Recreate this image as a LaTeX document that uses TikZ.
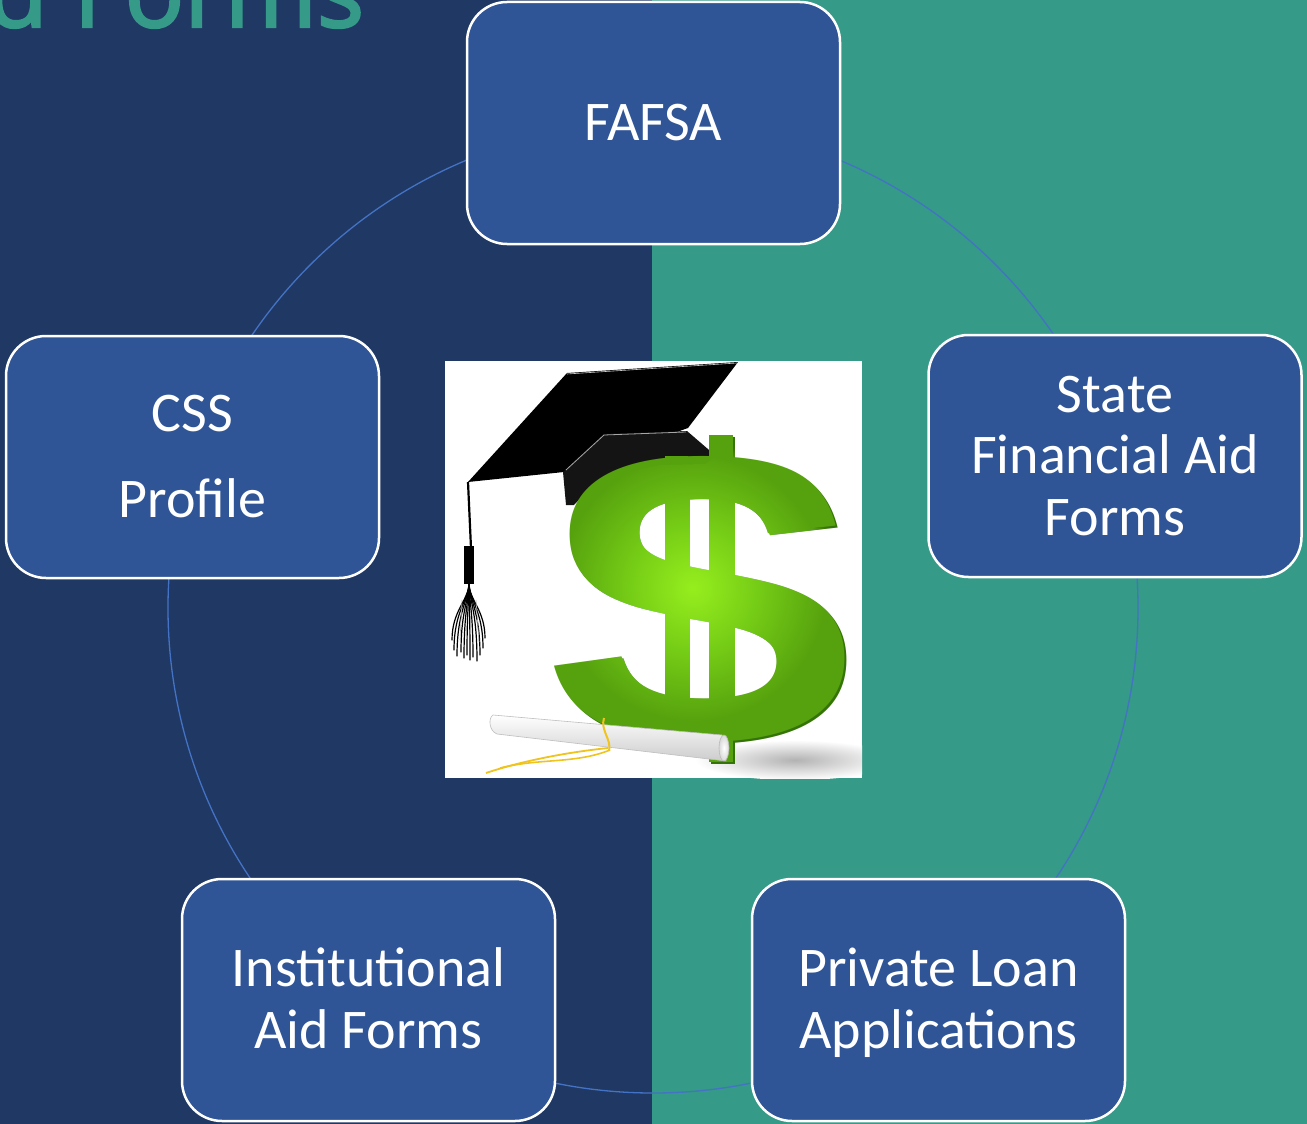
\documentclass[tikz,border=0pt]{standalone}
\usepackage{fontspec}
\setmainfont{Carlito}
\newfontfamily\titlefont{Open Sans}[FakeBold=2.5]
\newfontfamily\dollarfont{Liberation Sans}
\definecolor{bgnavy}{RGB}{31,56,100}
\definecolor{bgteal}{RGB}{53,154,135}
\definecolor{boxblue}{RGB}{47,85,151}
\definecolor{ringblue}{RGB}{68,114,196}
\definecolor{sgreen}{RGB}{86,162,14}
\definecolor{sdark}{RGB}{52,115,6}
\definecolor{smid}{RGB}{118,205,22}
\definecolor{sbright}{RGB}{150,238,30}
\definecolor{ribbon}{RGB}{240,196,30}
\pgfdeclareradialshading{sglow}{\pgfpoint{0bp}{0bp}}{color(0bp)=(sbright); color(9bp)=(smid); color(19bp)=(sgreen); color(25bp)=(black); color(50bp)=(black)}
\begin{document}
\begin{tikzpicture}[x=1pt,y=-1pt,
  formbox/.style={draw=white, line width=2.5pt, fill=boxblue, rounded corners=40pt,
    minimum width=373pt, minimum height=242pt, inner sep=0pt, text=white, align=center,
    font=\fontsize{56}{61.5}\selectfont, text depth=0pt},
  strand/.style={line width=1.2pt, black, line cap=round}
]
\useasboundingbox (0,0) rectangle (1307,1124);
\clip (0,0) rectangle (1307,1124);
\fill[bgnavy] (0,0) rectangle (652,1124);
\fill[bgteal] (652,0) rectangle (1307,1124);
\node[anchor=base west, inner sep=0pt, text=bgteal, font=\titlefont\fontsize{99}{110}\selectfont] (title) at (-13,27) {d Forms};
\draw[ringblue, line width=1.3pt] (653,608) circle[radius=485pt];

\node[formbox, text height=35pt] (fafsa) at (653.5,123) {FAFSA};
\node[formbox, text height=121pt, font=\fontsize{56}{86}\selectfont] (css) at (192.5,457) {CSS\\Profile};
\node[formbox, text height=158pt] (state) at (1115,456) {State\\Financial Aid\\Forms};
\node[formbox, text height=96.5pt] (inst) at (368.5,1000) {Institutional\\Aid Forms};
\node[formbox, text height=96.5pt] (loan) at (938.5,1000) {Private Loan\\Applications};

% clip art
\node[fill=white, minimum size=417pt, inner sep=0pt] (art) at (653.5,569.5) {};
\begin{scope}
\clip (445,361) rectangle (862,778);
% shadow
\shade[inner color=gray!60, outer color=white] (795,760) ellipse[x radius=100pt, y radius=20pt];
% mortarboard
\fill[black] (468,482) -- (567,373) -- (738,362) -- (688,428) -- (564,472) -- cycle;
\fill[black!92] (563,472) -- (604,434) -- (687,431) -- (716,456) -- (705,464) -- (660,465) -- (620,473) -- (590,488) -- (574,505) -- (566,505) -- cycle;
\draw[gray!70, line width=0.8pt] (566,470) -- (604,435) -- (686,432);
\draw[gray!40, line width=0.6pt] (567,374) -- (737,363);
% tassel
\draw[black, line width=2.2pt] (468,482) -- (471,548);
\fill[black] (464,546) rectangle (474,584);
\foreach \ex/\ey in {452/640, 454/650, 457/656, 461/652, 464/658, 467/655, 470/660, 473/657, 477/661, 480/655, 483/648, 485/638}{
  \draw[strand] (469,583) .. controls (469,600) and (\ex,610) .. (\ex,\ey);
}
\draw[gray!60, line width=0.6pt] (462,600) -- (460,640);
\draw[gray!60, line width=0.6pt] (476,600) -- (479,642);
% dollar sign
\node[inner sep=0pt, text=sdark, font=\dollarfont\bfseries\fontsize{404}{410}\selectfont, xscale=1.2, transform shape] (sback) at (704,601.5) {S};
\fill[sdark] (666,458) rectangle (690,742);
\fill[sdark] (710.5,437) rectangle (735,764);
\node[inner sep=0pt, text=sgreen, font=\dollarfont\bfseries\fontsize{404}{410}\selectfont, xscale=1.2, transform shape] (sglyph) at (702,599.5) {S};
\fill[sgreen] (665,456) rectangle (688,740);
\fill[sgreen] (709,435) rectangle (733,762);
\begin{scope}[even odd rule]
\clip (445,361) rectangle (862,778)
  (468,482) -- (567,373) -- (738,362) -- (688,428) -- (716,456) -- (705,464) -- (660,465) -- (620,473) -- (590,488) -- (574,505) -- (566,505) -- (563,472) -- cycle;
\begin{scope}[blend mode=lighten]
\shade[shading=sglow] (693,588) circle[radius=175pt];
\end{scope}
\end{scope}
% diploma
\shade[top color=white, bottom color=gray!40, draw=gray!50, line width=0.6pt]
  (493,715) -- (722,735) -- (726,761) -- (497,734) .. controls (489,731) and (488,718) .. cycle;
\shade[inner color=white, outer color=gray!30, draw=gray!55, line width=0.6pt] (724,748) ellipse[x radius=5pt, y radius=13pt];
\draw[ribbon, line width=2pt] (604,718) .. controls (600,730) and (612,740) .. (609,751);
\draw[ribbon, line width=1.8pt] (608,748) .. controls (570,752) and (525,760) .. (486,773);
\draw[ribbon, line width=1.6pt] (610,750) .. controls (575,764) and (540,758) .. (500,768);
\end{scope}
\end{tikzpicture}
\end{document}
